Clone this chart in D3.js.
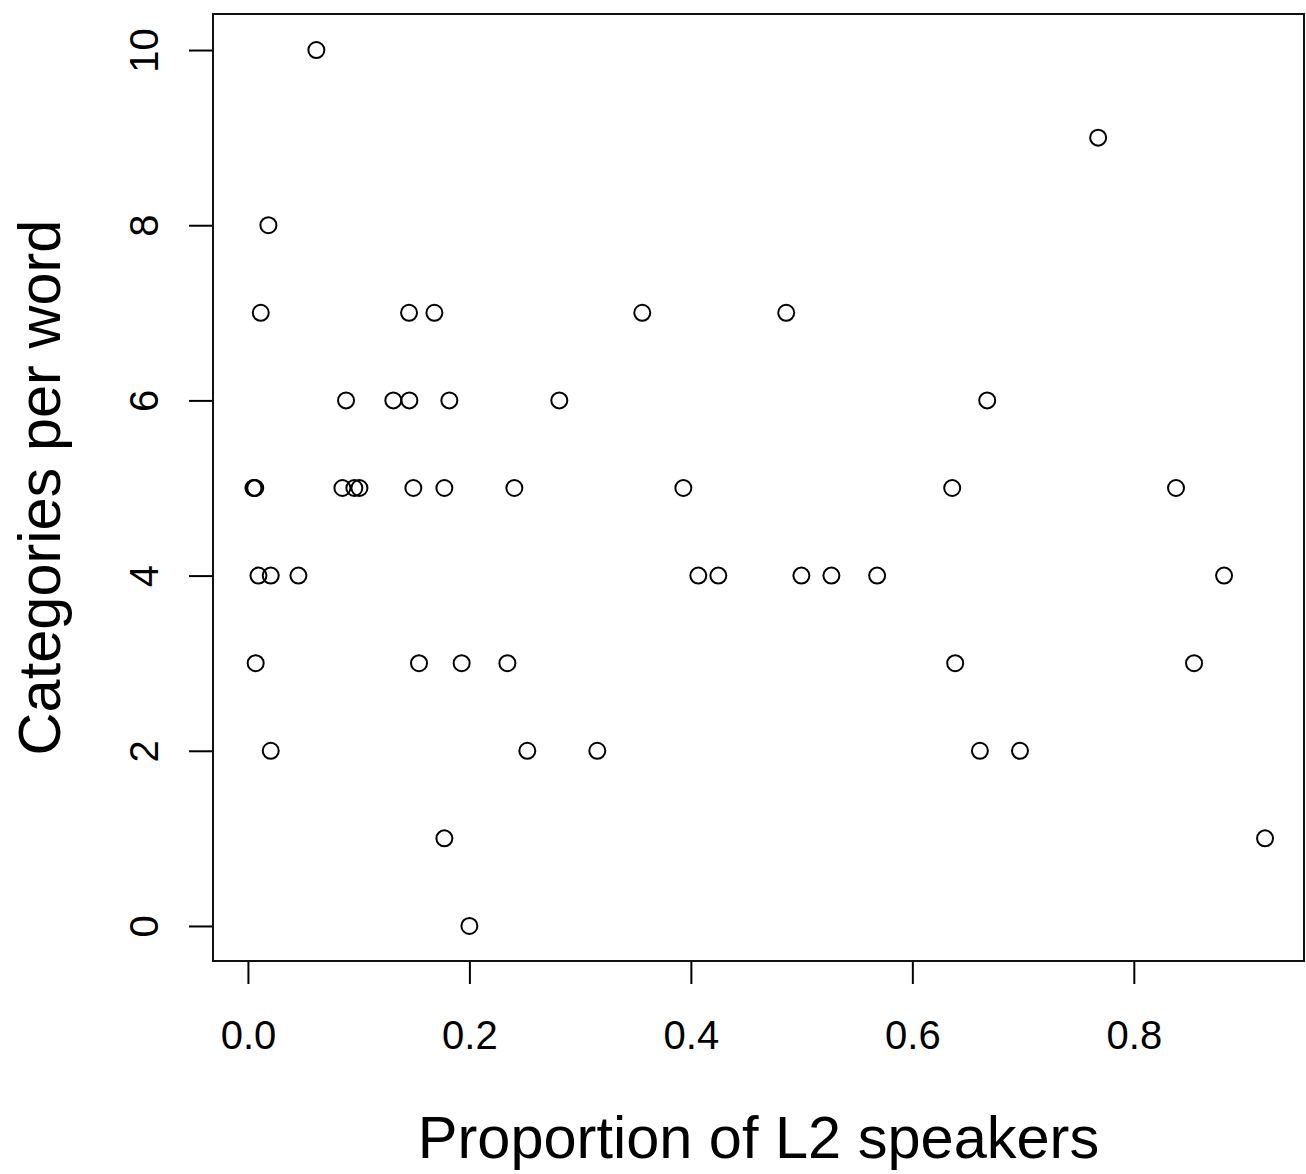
<!DOCTYPE html>
<html>
<head>
<meta charset="utf-8">
<script src="https://cdn.jsdelivr.net/npm/d3@7"></script>
<style>
  body { margin: 0; background: #fff; }
  text { font-family: "Liberation Sans", Arial, sans-serif; fill: #000; }
</style>
</head>
<body>
<svg id="chart" width="1306" height="1174"></svg>
<script>
// proportion of L2 speakers (x) and categories per word (y)
let propL2 = [
  0.0618,
  0.7678,
  0.0185,
  0.0116, 0.1455, 0.1684, 0.3561, 0.4861,
  0.0886, 0.1313, 0.1458, 0.1819, 0.2812, 0.6676,
  0.0050, 0.0058, 0.0066, 0.0853, 0.0961, 0.1007, 0.1494, 0.1774, 0.2406, 0.3932, 0.6360, 0.8381,
  0.0095, 0.0206, 0.0456, 0.4067, 0.4248, 0.4998, 0.5269, 0.5682, 0.8815,
  0.0070, 0.1545, 0.1930, 0.2343, 0.6387, 0.8544,
  0.0206, 0.2523, 0.3155, 0.6610, 0.6972,
  0.1774, 0.9185,
  0.2000
]
let catsPerWord = [
  10,
  9,
  8,
  7, 7, 7, 7, 7,
  6, 6, 6, 6, 6, 6,
  5, 5, 5, 5, 5, 5, 5, 5, 5, 5, 5, 5,
  4, 4, 4, 4, 4, 4, 4, 4, 4,
  3, 3, 3, 3, 3, 3,
  2, 2, 2, 2, 2,
  1, 1,
  0
]
let xTicks = [0, 0.2, 0.4, 0.6, 0.8]
let yTicks = [0, 2, 4, 6, 8, 10]
let xTitle = "Proportion of L2 speakers"
let yTitle = "Categories per word"

let points = propL2.map((v, i) => ({ x: v, y: catsPerWord[i] }))

// plot region, R style with 4% padding on each axis
let box = { left: 213, right: 1304, top: 14, bottom: 961 }
let padded = (ext) => {
  let p = (ext[1] - ext[0]) * 0.04
  return [ext[0] - p, ext[1] + p]
}
// ranges nudged a pixel or so to line up with the original render
let x = d3.scaleLinear().domain(padded(d3.extent(propL2))).range([box.left, box.right + 1.5])
let y = d3.scaleLinear().domain(padded(d3.extent(catsPerWord))).range([box.bottom, box.top + 1])

let svg = d3.select("#chart")

// x axis ticks + labels
let xAxis = svg.append("g").attr("transform", `translate(0,${box.bottom})`)
  .call(d3.axisBottom(x).tickValues(xTicks).tickFormat(d3.format(".1f")).tickSize(23))
xAxis.select(".domain").remove()
xAxis.selectAll(".tick line").attr("stroke", "#000").attr("stroke-width", 2)
xAxis.selectAll(".tick text")
  .attr("font-size", 40)
  .attr("font-family", "Liberation Sans, Arial, sans-serif")
  .attr("fill", "#000")
  .attr("dy", 0)
  .attr("y", 88)

// y axis ticks + labels, rotated like R's default las=0
let yAxis = svg.append("g").attr("transform", `translate(${box.left},0)`)
  .call(d3.axisLeft(y).tickValues(yTicks).tickFormat(d3.format("d")).tickSize(24))
yAxis.select(".domain").remove()
yAxis.selectAll(".tick line").attr("stroke", "#000").attr("stroke-width", 2)
yAxis.selectAll(".tick text")
  .attr("font-size", 40)
  .attr("font-family", "Liberation Sans, Arial, sans-serif")
  .attr("fill", "#000")
  .attr("x", 0).attr("dy", 0)
  .attr("text-anchor", "middle")
  .attr("transform", "translate(-55,0) rotate(-90)")

// box around the plot
svg.append("rect")
  .attr("x", box.left).attr("y", box.top)
  .attr("width", box.right - box.left).attr("height", box.bottom - box.top)
  .attr("fill", "none").attr("stroke", "#111").attr("stroke-width", 2)

// points as open circles (pch = 1)
svg.append("g").selectAll("circle").data(points).enter().append("circle")
  .attr("cx", d => x(d.x))
  .attr("cy", d => y(d.y))
  .attr("r", 8)
  .attr("fill", "none")
  .attr("stroke", "#000")
  .attr("stroke-width", 2)

// axis titles
svg.append("text")
  .attr("x", (box.left + box.right) / 2).attr("y", 1158)
  .attr("text-anchor", "middle")
  .attr("font-size", 59.5)
  .text(xTitle)

svg.append("text")
  .attr("transform", `translate(60,${(box.top + box.bottom) / 2}) rotate(-90)`)
  .attr("text-anchor", "middle")
  .attr("font-size", 59.5)
  .text(yTitle)
</script>
</body>
</html>
